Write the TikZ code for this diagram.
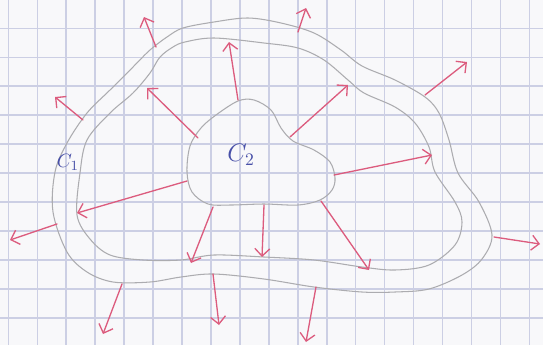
\documentclass[tikz,border=0pt]{standalone}
\usepackage{tikz}
\usetikzlibrary{arrows.meta}
\definecolor{paper}{RGB}{248,248,250}
\definecolor{gridblue}{RGB}{204,207,228}
\definecolor{pencil}{RGB}{172,172,176}
\definecolor{inkred}{RGB}{220,92,126}
\definecolor{inkblue}{RGB}{72,80,168}
\tikzset{
  gridln/.style={gridblue, line width=0.85pt},
  contour/.style={pencil, line width=0.6pt},
  fieldarr/.style={-{Straight Barb[length=1.5mm,width=3mm]}, inkred, line width=0.75pt, line cap=round},
  clab/.style={inkblue, inner sep=0pt},
}

\begin{document}
\begin{tikzpicture}[x=0.02cm, y=-0.02cm]
    \fill[paper] (0,0) rectangle (543,345);
    \useasboundingbox (0,0) rectangle (543,345);
    % squared paper
    \foreach \gx in {0,...,18}
      \draw[gridln] ({8.3+28.95*\gx},0) -- ++(0,345);
    \foreach \gy in {0,...,10}
      \draw[gridln] (0,{28.3+28.95*\gy}) -- ++(543,0);
    % outer curve
    \draw[contour] plot[smooth cycle, tension=0.55] coordinates {
      (53,212) (55,172) (67,143) (87,113) (110,90) (133,67) (150,50) (167,37)
      (183,28) (214,22) (248,18) (281,23) (314,33) (341,50) (362,66) (395,80)
      (425,97) (439,113) (449,140) (458,173) (479,202) (492,235) (482,259)
      (462,275) (429,289) (395,292) (362,292) (314,287) (264,279) (214,274)
      (181,277) (150,282) (113,282) (87,272) (67,252)};
    % middle curve
    \draw[contour] plot[smooth cycle, tension=0.55] coordinates {
      (77,215) (80,173) (87,140) (110,113) (133,93) (150,73) (160,57) (173,47)
      (185,42) (214,38) (264,43) (298,48) (324,60) (348,80) (364,93) (395,107)
      (415,123) (429,147) (435,172) (455,202) (462,222) (455,245) (429,265)
      (395,270) (362,267) (314,260) (264,257) (214,255) (181,260) (143,260)
      (110,255) (90,239)};
    % inner blob
    \draw[contour] plot[smooth cycle, tension=0.55] coordinates {
      (187,172) (190,146) (201,128) (216,115) (238,101) (254,100) (271,110)
      (281,128) (293,141) (314,150) (330,162) (335,178) (332,190) (320,200)
      (298,205) (264,204) (231,205) (208,204) (192,192)};
    % arrows from the blob
    \draw[fieldarr] (198,138) -- (147,88);
    \draw[fieldarr] (238,100) -- (229,42);
    \draw[fieldarr] (290,137) -- (348,85);
    \draw[fieldarr] (334,175) -- (432,155);
    \draw[fieldarr] (321,201) -- (369,270);
    \draw[fieldarr] (264,205) -- (262,257);
    \draw[fieldarr] (213,207) -- (191,263);
    \draw[fieldarr] (187,181) -- (77,213);
    % arrows from the outer curve
    \draw[fieldarr] (156,47) -- (144,17);
    \draw[fieldarr] (83,120) -- (55,97);
    \draw[fieldarr] (298,32) -- (306,8);
    \draw[fieldarr] (425,95) -- (467,62);
    \draw[fieldarr] (494,237) -- (540,244);
    \draw[fieldarr] (57,224) -- (10,240);
    \draw[fieldarr] (122,284) -- (103,334);
    \draw[fieldarr] (213,274) -- (219,325);
    \draw[fieldarr] (316,287) -- (306,342);
    % labels
    \node[clab, font=\fontsize{11}{13}\selectfont] (lab1) at (68,162) {$C_1$};
    \node[clab, font=\fontsize{14}{16}\selectfont] (lab2) at (241,155) {$C_2$};
\end{tikzpicture}
\end{document}
